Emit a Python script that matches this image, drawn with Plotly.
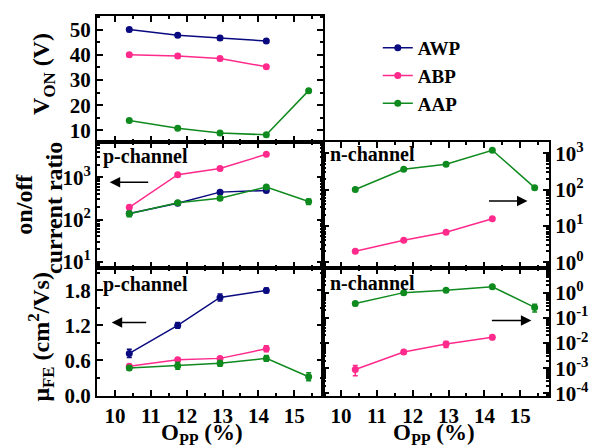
import plotly.graph_objects as go
from plotly.subplots import make_subplots

# ---------------- data ----------------
opp = [10.4, 11.75, 12.93, 14.22, 15.4]          # O_PP (%)
series = ["AWP", "ABP", "AAP"]
colors = {"AWP": "#0a0a80", "ABP": "#ff2a8c", "AAP": "#0f8a1e"}

von = {"AWP": [50.0, 47.8, 46.7, 45.5],
       "ABP": [40.0, 39.5, 38.5, 35.3],
       "AAP": [14.0, 10.9, 9.0, 8.3, 25.8]}
von_err = {"AWP": [0.7, 0.7, 0.7, 0.7],
           "ABP": [0.7, 0.7, 0.7, 0.7],
           "AAP": [0.7, 0.7, 0.7, 0.7, 0.7]}

onoff_p = {"AWP": [140, 245, 447, 490],
           "ABP": [195, 1160, 1620, 3530],
           "AAP": [137, 250, 320, 590, 268]}
onoff_p_err = {"AWP": [15, 20, 30, 40],
               "ABP": [15, 60, 80, 150],
               "AAP": [20, 25, 25, 50, 40]}

onoff_n = {"ABP": [2.0, 4.0, 6.7, 15.8],
           "AAP": [100, 360, 500, 1210, 113]}
onoff_n_err = {"ABP": [0.15, 0.3, 0.4, 0.9],
               "AAP": [8, 25, 30, 80, 10]}

mu_p = {"AWP": [0.72, 1.20, 1.68, 1.80],
        "ABP": [0.50, 0.61, 0.635, 0.80],
        "AAP": [0.47, 0.51, 0.55, 0.635, 0.32]}
mu_p_err = {"AWP": [0.07, 0.05, 0.06, 0.04],
            "ABP": [0.03, 0.03, 0.03, 0.05],
            "AAP": [0.04, 0.06, 0.05, 0.05, 0.07]}

mu_n = {"ABP": [9e-4, 4.4e-3, 9.1e-3, 0.017],
        "AAP": [0.37, 1.0, 1.23, 1.7, 0.26]}
mu_n_err = {"ABP": [4e-4, 8e-4, 2.5e-3, 3e-3],
            "AAP": [0.06, 0.1, 0.12, 0.2, 0.09]}

x_ticks = [10, 11, 12, 13, 14, 15]
von_ticks = [10, 20, 30, 40, 50]
mu_p_ticks = [0.0, 0.6, 1.2, 1.8]
onoff_p_exp = [1, 2, 3]
onoff_n_exp = [0, 1, 2, 3]
mu_n_exp = [-4, -3, -2, -1, 0]

# ---------------- figure ----------------
W, H = 601, 448
ML, MR, MT, MB = 97, 42, 14, 52
PW, PH = W - ML - MR, H - MT - MB

def px(x):
    return (x - ML) / PW

def py(y):
    return 1 - (y - MT) / PH

FONT = "Liberation Serif, Times New Roman, serif"

def b(s):
    return "<b>" + s + "</b>"

fig = make_subplots(rows=3, cols=2, horizontal_spacing=0, vertical_spacing=0,
                    row_heights=[127, 126, 129])

def add(data, err, row, col, names, legend=False):
    for s in names:
        ys = data[s]
        fig.add_trace(go.Scatter(
            x=opp[:len(ys)], y=ys, name=b(s), mode="lines+markers",
            line=dict(color=colors[s], width=1.5),
            marker=dict(color=colors[s], size=7, symbol="circle"),
            error_y=dict(type="data", array=err[s], color=colors[s],
                         thickness=1.5, width=2.5),
            showlegend=legend, legendgroup=s), row=row, col=col)

add(von, von_err, 1, 1, series, legend=True)
add(onoff_p, onoff_p_err, 2, 1, series)
add(onoff_n, onoff_n_err, 2, 2, ["ABP", "AAP"])
add(mu_p, mu_p_err, 3, 1, series)
add(mu_n, mu_n_err, 3, 2, ["ABP", "AAP"])

tickfont = dict(family=FONT, size=21, color="black", weight="bold")
common = dict(showline=True, linewidth=2, linecolor="black", mirror="ticks",
              ticks="inside", ticklen=6, tickwidth=1.5, tickcolor="black",
              showgrid=False, zeroline=False, tickfont=tickfont)
minor_lin = lambda d: dict(dtick=d, ticks="inside", ticklen=3,
                           tickcolor="black", tickwidth=1.5)

# x axes
for r in (1, 2, 3):
    for c in (1, 2):
        fig.update_xaxes(range=[9.5, 15.8], tickvals=x_ticks,
                         ticktext=[b(str(v)) for v in x_ticks],
                         minor=minor_lin(0.5),
                         showticklabels=(r == 3), row=r, col=c, **common)

# y axes
fig.update_yaxes(range=[5.3, 55.4], tickvals=von_ticks,
                 ticktext=[b(str(v)) for v in von_ticks],
                 minor=minor_lin(5), row=1, col=1, **common)
fig.update_yaxes(range=[5.3, 55.4], tickvals=von_ticks, showticklabels=False,
                 minor=minor_lin(5), row=1, col=2, **common)

log_minor = dict(ticks="inside", ticklen=3, tickcolor="black", tickwidth=1.5,
                 dtick="D1")

def pw(e):
    return b("10<sup>%d</sup>" % e)

fig.update_yaxes(type="log", range=[0.86, 3.83],
                 tickvals=[10.0 ** e for e in onoff_p_exp],
                 ticktext=[pw(e) for e in onoff_p_exp],
                 minor=log_minor, row=2, col=1, **common)

fig.update_yaxes(type="log", range=[-0.15, 3.3],
                 tickvals=[10.0 ** e for e in onoff_n_exp],
                 ticktext=[pw(e) for e in onoff_n_exp],
                 side="right", minor=log_minor, row=2, col=2, **common)

fig.update_yaxes(range=[-0.01, 2.19], tickvals=mu_p_ticks,
                 ticktext=[b("%.1f" % v) for v in mu_p_ticks],
                 minor=minor_lin(0.3), row=3, col=1, **common)

fig.update_yaxes(type="log", range=[-4.1, 0.99],
                 tickvals=[10.0 ** e for e in mu_n_exp],
                 ticktext=[pw(e) for e in mu_n_exp],
                 side="right", minor=log_minor, row=3, col=2, **common)

# ---------------- text annotations ----------------
tfont = dict(family=FONT, size=24, color="black", weight="bold")
xfont = dict(family=FONT, size=23, color="black", weight="bold")
lfont = dict(family=FONT, size=20, color="black", weight="bold")

def text(x, y, s, font, angle=0, xanchor="center"):
    fig.add_annotation(x=px(x), y=py(y), xref="paper", yref="paper", text=b(s),
                       showarrow=False, font=font, textangle=angle,
                       xanchor=xanchor, yanchor="middle")

text(42, 72, "V<sub>ON</sub> (V)", tfont, -90)
text(22, 203, "on/off", tfont, -90)
text(53, 207, "current ratio", tfont, -90)
text(40, 337, "μ<sub>FE</sub> (cm<sup>2</sup>/Vs)", tfont, -90)
text(204, 434, "O<sub>PP</sub> (%)", xfont)
text(441, 434, "O<sub>PP</sub> (%)", xfont)

text(101, 155, "p-channel", lfont, xanchor="left")
text(101, 284, "p-channel", lfont, xanchor="left")
text(333, 153, "n-channel", lfont, xanchor="left")
text(333, 282, "n-channel", lfont, xanchor="left")

def arrow(hx, hy, tx, ty):
    fig.add_annotation(x=px(hx), y=py(hy), xref="paper", yref="paper",
                       ax=tx - hx, ay=ty - hy, axref="pixel", ayref="pixel",
                       text="", showarrow=True, arrowhead=2, arrowsize=1.4,
                       arrowwidth=1.5, arrowcolor="black")

arrow(110, 181, 150, 181)
arrow(112, 322, 148, 322)
arrow(537, 200, 497, 200)
arrow(541, 320, 500, 320)

fig.update_layout(
    width=W, height=H,
    margin=dict(l=ML, r=MR, t=MT, b=MB, pad=0),
    paper_bgcolor="white", plot_bgcolor="white",
    showlegend=True,
    legend=dict(x=px(384), y=py(27), xanchor="left", yanchor="top",
                font=dict(family=FONT, size=19, color="black", weight="bold"),
                bgcolor="rgba(0,0,0,0)", itemwidth=30, tracegroupgap=0),
)

fig.write_html("out.html")
